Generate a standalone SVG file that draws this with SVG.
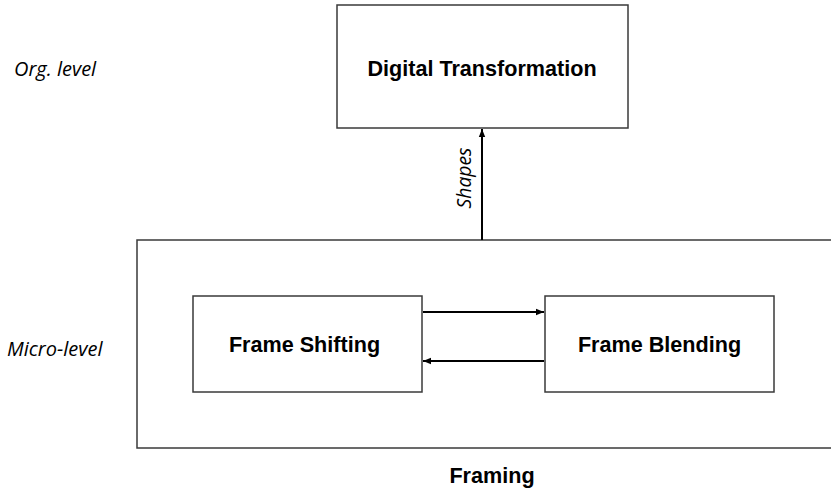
<svg xmlns="http://www.w3.org/2000/svg" width="831" height="492" viewBox="0 0 831 492">
<style>
.box{fill:#fff;stroke:#3a3a3a;stroke-width:1.5}
.lbl{font-family:"Liberation Sans",Arial,sans-serif;font-weight:bold;font-size:21.6px;fill:#000;text-anchor:middle}
.lvl{font-family:"Open Sans","DejaVu Sans",sans-serif;font-style:italic;font-size:20px;fill:#000}
.con{stroke:#000;stroke-width:2;fill:none}
</style>
<defs>
<marker id="ah" markerUnits="userSpaceOnUse" markerWidth="8" markerHeight="8" viewBox="0 0 8 8" refX="8" refY="4" orient="auto">
<path d="M0,0.8 L8,4 L0,7.2 Z" fill="#000"/>
</marker>
</defs>
<rect width="831" height="492" fill="#fff"/>
<text class="lvl" x="14" y="76">Org. level</text>
<text class="lvl" x="7" y="356">Micro-level</text>
<g id="framing">
<rect class="box" x="137" y="240" width="700" height="208"/>
<text class="lbl" x="492" y="483">Framing</text>
</g>
<g id="digital-transformation">
<rect class="box" x="337" y="5" width="291" height="123"/>
<text class="lbl" x="482" y="76">Digital Transformation</text>
</g>
<g id="frame-shifting">
<rect class="box" x="193" y="296" width="229" height="96"/>
<text class="lbl" x="304.5" y="352">Frame Shifting</text>
</g>
<g id="frame-blending">
<rect class="box" x="545" y="296" width="229" height="96"/>
<text class="lbl" x="659.5" y="352">Frame Blending</text>
</g>
<g id="connectors">
<line class="con" x1="482" y1="240" x2="482" y2="129" marker-end="url(#ah)"/>
<text class="lvl" style="font-size:19.3px" transform="translate(471,178) rotate(-90)" text-anchor="middle">Shapes</text>
<line class="con" x1="423" y1="312" x2="544" y2="312" marker-end="url(#ah)"/>
<line class="con" x1="544" y1="361" x2="423" y2="361" marker-end="url(#ah)"/>
</g>
</svg>
